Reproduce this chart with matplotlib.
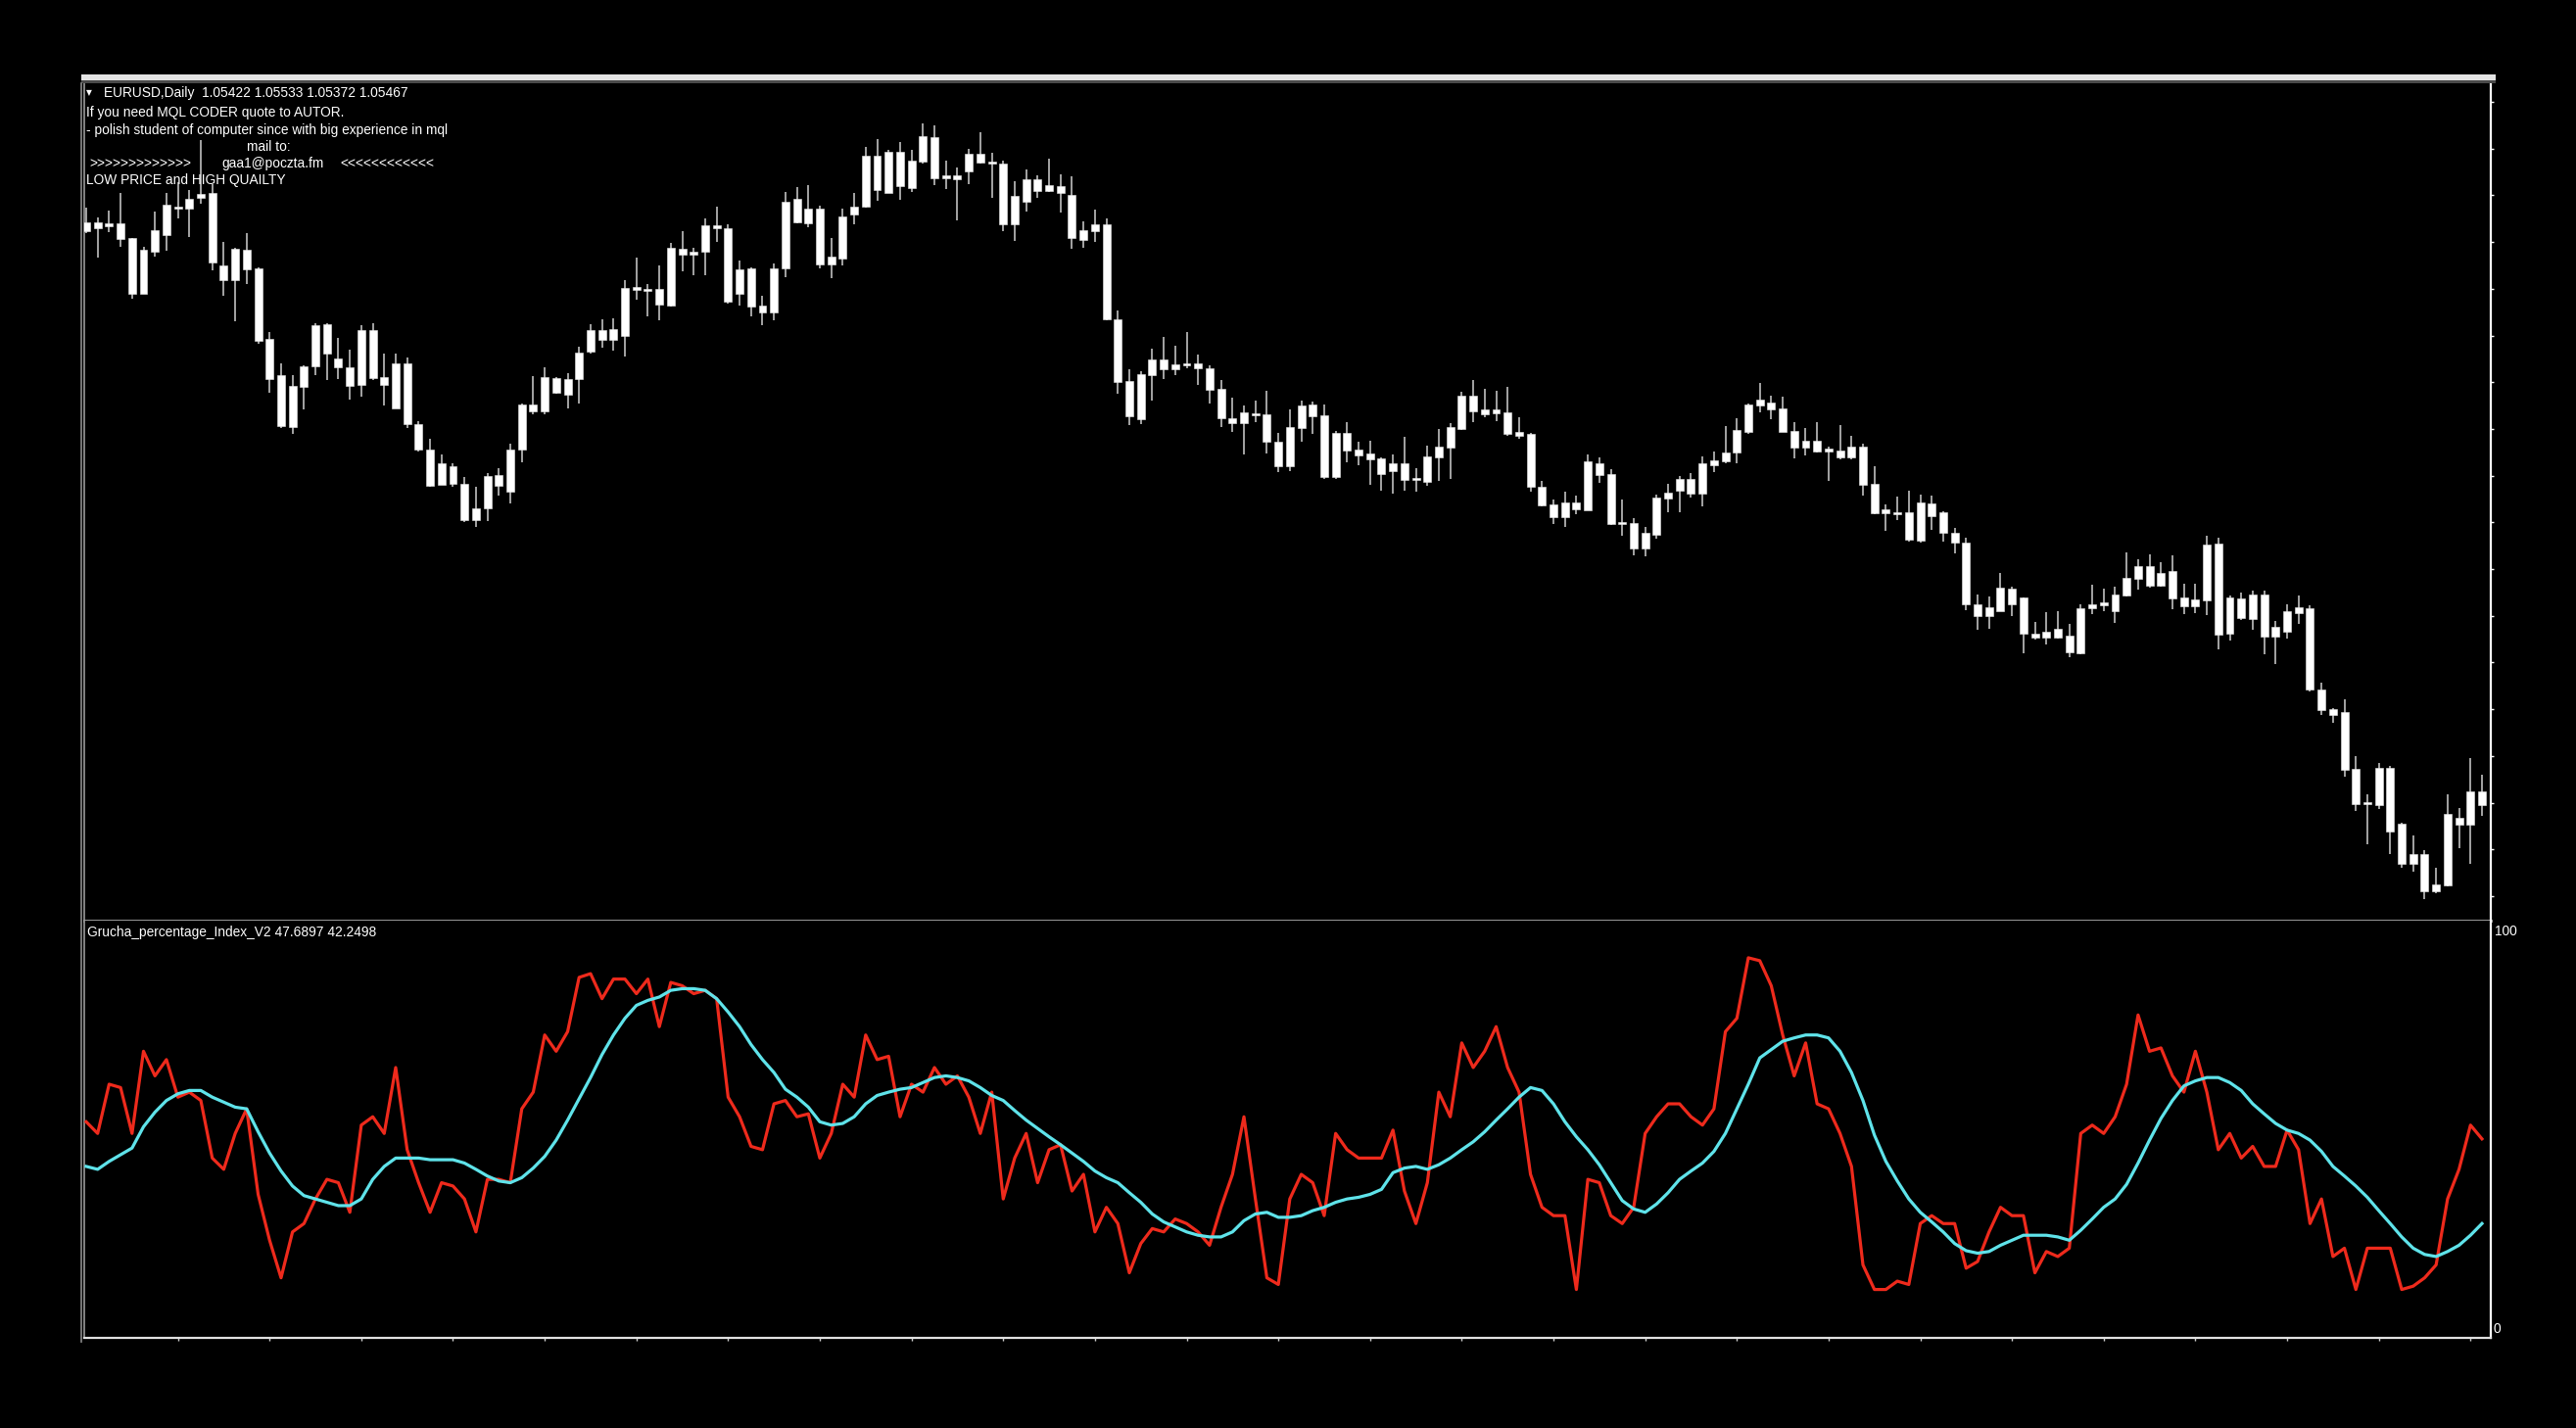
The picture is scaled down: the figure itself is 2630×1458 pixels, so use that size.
import numpy as np
import matplotlib
matplotlib.use("Agg")
import matplotlib.pyplot as plt
from matplotlib.lines import Line2D
from matplotlib.patches import Rectangle

# price in chart points (height above the indicator window)
body_hi = [713, 713, 712, 712, 697, 685, 705, 731, 729, 737, 742, 743, 669, 686, 685, 666, 594, 557, 546, 566,
           608, 609, 574, 565, 603, 603, 555, 569, 569, 507, 481, 467, 464, 446, 421, 454, 455, 481, 527, 527,
           555, 554, 553, 580, 603, 603, 604, 646, 647, 645, 645, 687, 686,
           683, 710, 710, 707, 665, 666, 628, 666, 734, 737, 727, 727, 678, 719, 729, 781, 781, 785, 785, 776,
           801, 800, 761, 761, 783, 783, 774, 773, 740, 757, 757, 751, 750, 741, 705, 711, 711, 614, 551, 558,
           573, 573, 568, 568, 569, 564, 543, 513, 519, 517, 517, 489,
           504, 526, 527, 516, 498, 498, 481, 477, 472, 467, 467, 451, 474, 484, 504, 536, 536, 522, 522, 519,
           499, 497, 443, 425, 427, 427, 469, 467, 456, 406, 406, 396, 432, 437, 451, 451, 467, 470, 478, 501,
           527, 532, 529, 523, 500, 490, 490, 482, 480, 484, 484, 446, 420,
           417, 417, 427, 426, 417, 396, 386, 323, 320, 340, 339, 330, 293, 295, 298, 291, 319, 323, 325, 333,
           350, 362, 362, 355, 357, 330, 328, 384, 385, 330, 329, 333, 333, 300, 316, 320, 319, 236, 216, 213,
           155, 120, 156, 156, 99, 68, 68, 37, 109, 105, 132, 132]
body_lo = [704, 707, 709, 696, 640, 640, 683, 700, 727, 727, 738, 672, 654, 654, 665, 592, 553, 505, 504, 545,
           566, 579, 565, 546, 547, 554, 547, 523, 507, 481, 444, 445, 446, 409, 409, 421, 444, 438, 481, 520,
           520, 539, 537, 553, 581, 593, 593, 597, 644, 643, 629, 628, 680,
           680, 683, 707, 632, 640, 627, 621, 621, 666, 713, 712, 670, 670, 676, 721, 729, 746, 743, 750, 748,
           775, 758, 758, 757, 765, 774, 773, 711, 711, 734, 745, 745, 743, 697, 695, 704, 614, 550, 515, 512,
           557, 563, 563, 567, 564, 542, 513, 508, 508, 516, 489, 464,
           464, 503, 515, 453, 453, 480, 475, 471, 456, 459, 450, 450, 448, 473, 483, 502, 520, 517, 518, 497,
           495, 443, 424, 412, 412, 420, 419, 455, 405, 405, 380, 380, 394, 431, 439, 436, 436, 465, 469, 478,
           499, 526, 522, 499, 483, 483, 479, 479, 473, 473, 445, 416, 416,
           415, 389, 388, 413, 396, 386, 323, 311, 311, 316, 323, 293, 289, 289, 289, 274, 273, 319, 322, 316,
           332, 349, 342, 342, 329, 321, 321, 327, 292, 293, 309, 308, 290, 290, 295, 314, 236, 215, 210, 154,
           119, 119, 118, 91, 58, 58, 30, 30, 36, 98, 98, 118]
high = [728, 718, 725, 743, 697, 688, 724, 743, 754, 746, 797, 752, 693, 687, 702, 667, 601, 569, 557, 567,
        610, 610, 595, 583, 608, 610, 579, 579, 575, 510, 492, 476, 467, 453, 443, 457, 462, 487, 528, 556,
        565, 555, 559, 586, 609, 614, 615, 654, 677, 650, 669, 692, 704,
        687, 717, 729, 711, 674, 667, 638, 671, 744, 749, 751, 730, 697, 727, 743, 790, 798, 787, 795, 787,
        814, 812, 776, 769, 788, 805, 784, 776, 755, 767, 761, 778, 762, 760, 714, 726, 717, 623, 563, 561,
        584, 596, 587, 601, 578, 567, 552, 534, 526, 531, 541, 498,
        522, 531, 530, 527, 500, 509, 489, 490, 473, 476, 494, 462, 485, 502, 508, 540, 552, 543, 541, 545,
        514, 498, 449, 430, 438, 434, 476, 473, 461, 430, 411, 402, 435, 446, 454, 457, 474, 479, 505, 513,
        528, 549, 536, 535, 509, 503, 509, 484, 506, 495, 487, 464, 425,
        433, 439, 435, 434, 418, 401, 391, 333, 331, 355, 341, 330, 305, 315, 316, 303, 323, 343, 339, 341,
        376, 369, 374, 366, 373, 344, 344, 393, 391, 332, 335, 337, 337, 306, 323, 332, 322, 243, 217, 226,
        168, 129, 161, 158, 100, 87, 72, 54, 129, 115, 166, 149]
low = [702, 677, 703, 688, 635, 640, 678, 684, 717, 698, 732, 664, 638, 612, 650, 589, 539, 503, 497, 522,
       557, 552, 553, 532, 535, 552, 526, 523, 503, 479, 443, 445, 443, 407, 402, 408, 434, 426, 468, 517,
       517, 538, 523, 528, 579, 585, 582, 576, 634, 617, 613, 627, 663,
       659, 659, 693, 630, 628, 617, 608, 613, 657, 712, 708, 666, 656, 669, 711, 728, 735, 743, 736, 744,
       773, 751, 747, 715, 752, 773, 738, 704, 694, 724, 738, 744, 723, 686, 687, 693, 613, 538, 506, 507,
       531, 553, 557, 564, 547, 528, 504, 499, 476, 509, 477, 458,
       459, 489, 497, 451, 451, 468, 465, 445, 439, 436, 439, 438, 444, 449, 451, 501, 509, 514, 510, 495,
       492, 438, 423, 405, 402, 415, 419, 447, 404, 393, 373, 372, 390, 417, 417, 432, 423, 458, 467, 467,
       497, 519, 512, 499, 472, 475, 478, 449, 471, 471, 434, 415, 398,
       409, 387, 386, 399, 387, 375, 317, 297, 298, 316, 311, 273, 287, 282, 288, 269, 272, 313, 316, 304,
       331, 338, 340, 341, 318, 313, 314, 312, 277, 286, 307, 297, 272, 262, 288, 303, 234, 210, 202, 147,
       112, 78, 114, 68, 54, 50, 22, 28, 35, 74, 58, 107]

# Grucha_percentage_Index_V2 (0..100)
grucha = [51.8, 49.0, 60.8, 60.0, 49.0, 68.7, 62.8, 66.7, 57.7, 58.9,
          56.9, 43.1, 40.4, 49.0, 54.9, 34.4, 23.4, 14.4, 25.4, 27.4,
          33.3, 38.0, 37.2, 30.1, 51.0, 53.0, 49.0, 64.8, 45.1, 37.2,
          30.1, 37.2, 36.4, 33.3, 25.4, 38.0, 38.0, 37.2, 54.9, 58.9,
          72.6, 68.7, 73.4, 86.4, 87.3, 81.3, 86.0, 86.0, 82.5, 86.0,
          74.6, 85.2, 84.4, 82.5, 83.3, 81.3, 57.7, 53.0, 45.9, 45.1,
          56.1, 56.9, 53.0, 53.7, 43.1, 49.0, 60.8, 57.7, 72.6, 66.7,
          67.5, 53.0, 60.8, 58.9, 64.8, 60.8, 62.8, 57.7, 49.0, 58.9,
          33.3, 43.1, 49.0, 37.2, 45.1, 46.3, 35.2, 39.2, 25.4, 31.3,
          27.4, 15.6, 22.6, 26.2, 25.4, 28.5, 27.4, 25.4, 22.2, 31.3,
          39.2, 53.0, 33.3, 14.4, 12.8, 33.3, 39.2, 37.2, 29.3, 49.0,
          45.1, 43.1, 43.1, 43.1, 49.8, 35.2, 27.4, 37.2, 58.9, 53.0,
          70.7, 64.8, 68.7, 74.6, 64.8, 58.9, 39.2, 31.3, 29.3, 29.3,
          11.6, 38.0, 37.2, 29.3, 27.4, 31.3, 49.0, 53.0, 56.1, 56.1,
          53.0, 51.0, 54.9, 73.4, 76.6, 91.1, 90.4, 84.4, 72.6, 62.8,
          70.7, 56.1, 54.9, 49.0, 41.1, 17.5, 11.6, 11.6, 13.6, 12.8,
          27.4, 29.3, 27.4, 27.4, 16.7, 18.3, 25.4, 31.3, 29.3, 29.3,
          15.6, 20.7, 19.5, 21.5, 49.0, 51.0, 49.0, 53.0, 60.8, 77.4,
          68.7, 69.5, 62.8, 58.9, 68.7, 58.9, 45.1, 49.0, 43.1, 45.9,
          41.1, 41.1, 49.8, 45.1, 27.4, 33.3, 19.5, 21.5, 11.6, 21.5,
          21.5, 21.5, 11.6, 12.4, 14.4, 17.5, 33.3, 40.4, 51.0, 47.7]
signal = [41.1, 40.4, 42.3, 43.9, 45.5, 50.6, 54.1, 56.9, 58.5, 59.3,
          59.3, 57.7, 56.5, 55.3, 54.9, 49.4, 44.3, 40.0, 36.4, 34.1,
          33.3, 32.5, 31.7, 31.7, 33.3, 38.0, 41.1, 43.1, 43.1, 43.1,
          42.7, 42.7, 42.7, 41.9, 40.4, 38.8, 37.6, 37.2, 38.4, 40.7,
          43.5, 47.4, 52.2, 57.3, 62.4, 67.9, 72.6, 76.6, 79.7, 80.9,
          81.7, 83.3, 83.7, 83.7, 83.3, 81.3, 78.1, 74.6, 70.3, 66.7,
          63.6, 59.6, 57.7, 55.3, 51.8, 51.0, 51.4, 53.0, 56.1, 58.1,
          58.9, 59.6, 60.0, 61.2, 62.4, 62.8, 62.4, 61.6, 60.0, 58.1,
          56.9, 54.5, 52.2, 50.2, 48.2, 46.3, 44.3, 42.3, 40.0, 38.4,
          37.2, 34.8, 32.5, 29.7, 27.8, 26.6, 25.4, 24.6, 24.2, 24.2,
          25.4, 28.1, 29.7, 30.1, 28.9, 28.9, 29.3, 30.5, 31.3, 32.5,
          33.3, 33.7, 34.4, 35.6, 39.6, 40.7, 41.1, 40.4, 41.5, 43.1,
          45.1, 47.0, 49.4, 52.2, 54.9, 57.7, 60.0, 59.3, 56.1, 51.8,
          48.2, 45.1, 41.5, 37.2, 32.9, 30.9, 30.1, 32.1, 34.8, 38.0,
          40.0, 41.9, 44.7, 49.0, 54.9, 60.8, 67.1, 69.1, 71.1, 71.9,
          72.6, 72.6, 71.9, 68.7, 63.6, 56.9, 48.6, 42.3, 37.6, 33.3,
          30.1, 27.8, 25.4, 22.6, 20.9, 20.3, 20.7, 22.2, 23.4, 24.6,
          24.6, 24.6, 24.2, 23.4, 25.8, 28.5, 31.3, 33.3, 36.8, 41.9,
          47.4, 52.6, 56.9, 60.4, 61.6, 62.4, 62.4, 61.2, 59.3, 56.1,
          53.7, 51.4, 49.8, 49.0, 47.4, 44.7, 41.1, 38.8, 36.4, 33.7,
          30.5, 27.4, 24.2, 21.5, 20.0, 19.5, 20.7, 22.2, 24.6, 27.4]

header = "EURUSD,Daily  1.05422 1.05533 1.05372 1.05467"
ind_label = "Grucha_percentage_Index_V2 47.6897 42.2498"

n = len(high)
assert len(low) == n and len(body_hi) == n and len(body_lo) == n
assert len(grucha) == n and len(signal) == n
x = np.arange(n)

W, H = 2630, 1458
fig = plt.figure(figsize=(W / 100, H / 100), dpi=100, facecolor="black")
FONT = "Liberation Sans"


def fx(px):
    return px / W


def fy(py):
    return 1 - py / H


ax = fig.add_axes([fx(86), fy(940), fx(2543) - fx(86), fy(85) - fy(940)])
axi = fig.add_axes([fx(86), fy(1366), fx(2543) - fx(86), fy(940) - fy(1366)])

x0, x1 = -0.17, n - 1 + 0.77
for a in (ax, axi):
    a.set_facecolor("black")
    a.set_xlim(x0, x1)
    a.spines["top"].set_visible(False)
    a.spines["left"].set_color("#9a9a9a")
    a.spines["left"].set_linewidth(1.2)
    a.spines["right"].set_color("white")
    a.spines["right"].set_linewidth(1.6)

# candles
hi = np.array(body_hi, float)
lo = np.array(body_lo, float)
ax.vlines(x, low, high, color="#d0d0d0", lw=1.1, zorder=2)
ax.bar(x, np.maximum(hi - lo, 2), bottom=lo, width=0.68, color="white",
       edgecolor="#e8e8e8", linewidth=0.4, zorder=3)
ax.set_ylim(0, 855)
ax.spines["bottom"].set_color("#a8a8a8")
ax.spines["bottom"].set_linewidth(2.0)
ax.yaxis.tick_right()
ax.set_yticks(np.arange(836, 0, -47.7))
ax.tick_params(axis="y", colors="white", length=2.5, width=1, labelright=False)
ax.set_xticks([])

# indicator
axi.plot(x, grucha, color="#ee2a1c", lw=2.3, zorder=3)
axi.plot(x, signal, color="#5fe3ea", lw=2.3, zorder=4)
axi.set_ylim(0, 100)
axi.spines["bottom"].set_color("#e0e0e0")
axi.spines["bottom"].set_linewidth(1.6)
axi.set_yticks([])
axi.set_xticks(np.arange(8, n, 8))
axi.tick_params(axis="x", colors="#cccccc", length=2.5, width=1, labelbottom=False)

# window frame bits
fig.add_artist(Rectangle((fx(83), fy(82)), fx(2548) - fx(83), fy(76) - fy(82),
                         transform=fig.transFigure, color="#e4e4e4", lw=0))
fig.add_artist(Rectangle((fx(83), fy(85)), fx(2548) - fx(83), fy(82) - fy(85),
                         transform=fig.transFigure, color="#4a4a4a", lw=0))
fig.add_artist(Line2D([fx(83), fx(83)], [fy(1370), fy(85)], color="#8a8a8a", lw=1.2))

# texts
txt = dict(color="white", fontsize=9.9, family=FONT, va="center", ha="left")
fig.text(fx(88), fy(95), "\u25bc", color="white", fontsize=5.5, family="DejaVu Sans", va="center")
fig.text(fx(106), fy(95), header, **txt)
fig.text(fx(88), fy(115), "If you need MQL CODER quote to AUTOR.", **txt)
fig.text(fx(88), fy(133), "- polish student of computer since with big experience in mql", **txt)
fig.text(fx(252), fy(150), "mail to:", **txt)
fig.text(fx(91), fy(167), ">>>>>>>>>>>>>", **txt)
fig.text(fx(226), fy(167), "gaa1@poczta.fm", **txt)
fig.text(fx(347), fy(167), "<<<<<<<<<<<<", **txt)
fig.text(fx(88), fy(184), "LOW PRICE and HIGH QUAILTY", **txt)
fig.text(fx(89), fy(952), ind_label, **txt)
fig.text(fx(2547), fy(951), "100", **txt)
fig.text(fx(2546), fy(1357), "0", **txt)

fig.savefig("out.png", dpi=100, facecolor="black")
